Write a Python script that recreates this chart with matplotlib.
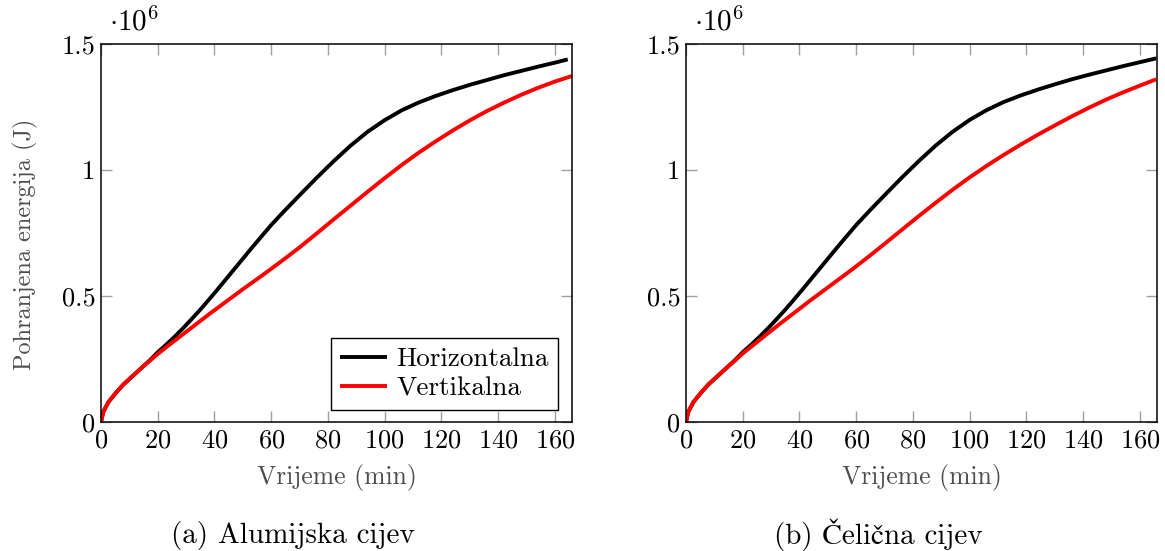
import matplotlib
matplotlib.use("Agg")
import matplotlib.pyplot as plt
from matplotlib.ticker import FixedLocator, FixedFormatter

plt.rcParams['font.family'] = ['cmr10', 'STIXGeneral', 'DejaVu Serif']
plt.rcParams['mathtext.fontset'] = 'cm'
plt.rcParams['axes.unicode_minus'] = False
plt.rcParams['axes.formatter.use_mathtext'] = True

# ---------------- data (energy in units of 1e6 J) ----------------
t_grid = [0, 0.8, 2.6, 5.5, 8, 11.4, 14.5, 17.3, 20, 23, 26, 29, 32, 35, 38, 41, 44, 47,
          50, 53, 56, 60, 65, 70, 76, 82, 88, 94, 100, 106, 112, 118, 124, 130, 136,
          142, 148, 154, 160]

# (a) Alumijska cijev
al_h_t = t_grid + [164.5]
al_h = [0, 0.04, 0.079, 0.119, 0.15, 0.185, 0.217, 0.246, 0.277, 0.307, 0.339, 0.373,
        0.409, 0.446, 0.485, 0.525, 0.566, 0.607, 0.648, 0.689, 0.729, 0.782, 0.842,
        0.9, 0.969, 1.035, 1.097, 1.152, 1.198, 1.237, 1.268, 1.294, 1.317, 1.338,
        1.357, 1.376, 1.393, 1.41, 1.426, 1.439]
al_v_t = t_grid + [166]
al_v = [0, 0.04, 0.079, 0.119, 0.15, 0.185, 0.217, 0.244, 0.27, 0.297, 0.323, 0.349,
        0.375, 0.401, 0.427, 0.452, 0.477, 0.502, 0.527, 0.551, 0.575, 0.608, 0.65,
        0.693, 0.748, 0.804, 0.859, 0.914, 0.968, 1.02, 1.069, 1.114, 1.157, 1.197,
        1.234, 1.267, 1.298, 1.326, 1.351, 1.373]

# (b) Čelična cijev
ce_h_t = t_grid + [165.7]
ce_h = [0, 0.04, 0.079, 0.119, 0.15, 0.185, 0.217, 0.246, 0.277, 0.307, 0.339, 0.373,
        0.409, 0.446, 0.485, 0.525, 0.566, 0.607, 0.648, 0.689, 0.729, 0.782, 0.842,
        0.9, 0.969, 1.035, 1.097, 1.152, 1.199, 1.238, 1.27, 1.296, 1.319, 1.34,
        1.36, 1.378, 1.395, 1.412, 1.428, 1.443]
ce_v_t = t_grid + [165.7]
ce_v = [0, 0.04, 0.079, 0.119, 0.15, 0.185, 0.217, 0.244, 0.272, 0.299, 0.326, 0.353,
        0.38, 0.406, 0.432, 0.458, 0.484, 0.509, 0.534, 0.559, 0.584, 0.618, 0.662,
        0.707, 0.762, 0.817, 0.87, 0.922, 0.971, 1.017, 1.06, 1.101, 1.14, 1.177,
        1.213, 1.247, 1.279, 1.308, 1.335, 1.36]

series_names = ['Horizontalna', 'Vertikalna']
captions = ['(a) Alumijska cijev', '(b) Čelična cijev']
x_ticks = [0, 20, 40, 60, 80, 100, 120, 140, 160]
y_ticks = [0, 0.5, 1, 1.5]
y_tick_labels = ['0', '0.5', '1', '1.5']
x_label = 'Vrijeme (min)'
y_label = 'Pohranjena energija (J)'

panels = [
    (al_h_t, al_h, al_v_t, al_v),
    (ce_h_t, ce_h, ce_v_t, ce_v),
]

W, H = 1165, 551
fig = plt.figure(figsize=(W / 100, H / 100), dpi=100)

axes_px = [(101, 44, 572, 422), (686, 44, 1157, 422)]
caption_x = [293, 878]
FS_TICK = 19
FS_XLAB = 18.5
FS_YLAB = 17.5
FS_LEG = 19.5
FS_CAP = 21
label_gray = '#4d4d4d'
tick_gray = '#a0a0a0'

for i, ((ht, hv, vt, vv), (l, t, r, b)) in enumerate(zip(panels, axes_px)):
    ax = fig.add_axes([l / W, 1 - b / H, (r - l) / W, (b - t) / H])
    ax.plot(ht, hv, color='black', lw=2.8, label=series_names[0], solid_capstyle='butt')
    ax.plot(vt, vv, color='red', lw=2.8, label=series_names[1], solid_capstyle='butt')
    ax.set_xlim(0, 166)
    ax.set_ylim(0, 1.5)
    ax.xaxis.set_major_locator(FixedLocator(x_ticks))
    ax.yaxis.set_major_locator(FixedLocator(y_ticks))
    ax.yaxis.set_major_formatter(FixedFormatter(y_tick_labels))
    ax.tick_params(which='both', direction='in', top=True, right=True,
                   length=8, width=1.0, color=tick_gray, labelcolor='black',
                   labelsize=FS_TICK)
    ax.tick_params(axis='x', pad=5)
    ax.tick_params(axis='y', pad=4)
    for s in ax.spines.values():
        s.set_linewidth(1.1)
        s.set_color('black')
    ax.set_xlabel(x_label, fontsize=FS_XLAB, color=label_gray, va='top')
    ax.xaxis.set_label_coords(0.5, -0.11)
    if i == 0:
        ax.set_ylabel(y_label, fontsize=FS_YLAB, color=label_gray, va='center')
        ax.yaxis.set_label_coords(-0.161, 0.47)
        leg = ax.legend(loc='lower right', bbox_to_anchor=(0.970, 0.032),
                        borderaxespad=0, fontsize=FS_LEG, frameon=True, fancybox=False,
                        edgecolor='black', framealpha=1, handlelength=1.7,
                        handletextpad=0.35, labelspacing=0.2, borderpad=0.35)
        leg.get_frame().set_linewidth(1.0)
    ax.text(0.018, 1.02, r'$\cdot 10^{6}$', transform=ax.transAxes,
            ha='left', va='bottom', fontsize=21)
    fig.text(caption_x[i] / W, 1 - 535 / H, captions[i], ha='center', va='center',
             fontsize=FS_CAP)

fig.savefig('out.png', dpi=100)
